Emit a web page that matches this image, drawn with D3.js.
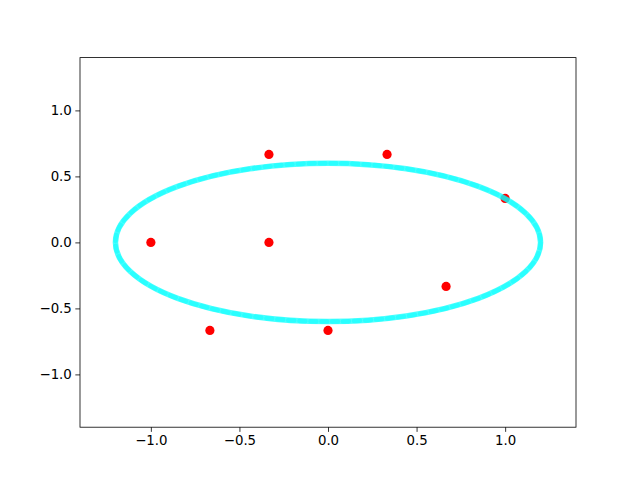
<!DOCTYPE html>
<html><head><meta charset="utf-8">
<script src="https://cdn.jsdelivr.net/npm/d3@7"></script>
<style>body{margin:0;background:#fff}svg text{font-family:"DejaVu Sans",sans-serif;font-size:13.33px;fill:#000}</style>
</head><body>
<script>
const pointX = [-1, -1/3, -1/3, 1/3, 1, 2/3, -2/3, 0];
const pointY = [0, 0, 2/3, 2/3, 1/3, -1/3, -2/3, -2/3];
const ellipseCenter = [0, 0];
const ellipseRadii = [1.2, 0.6];
const xTicks = [-1.0, -0.5, 0.0, 0.5, 1.0];
const yTicks = [-1.0, -0.5, 0.0, 0.5, 1.0];
const xDomain = [-1.4, 1.4];
const yDomain = [-1.4, 1.4];

const W = 640, H = 480;
const m = {l: 80, r: 576, t: 57.6, b: 427.2};
const svg = d3.select("body").append("svg").attr("width", W).attr("height", H);
const x = d3.scaleLinear().domain(xDomain).range([m.l, m.r]);
const y = d3.scaleLinear().domain(yDomain).range([m.b, m.t]);

const clip = svg.append("clipPath").attr("id","c").append("rect")
  .attr("x", m.l).attr("y", m.t).attr("width", m.r-m.l).attr("height", m.b-m.t);
const g = svg.append("g").attr("clip-path","url(#c)");

g.selectAll("circle.p").data(pointX.map((v,i)=>[v,pointY[i]])).enter().append("circle")
  .attr("class","p").attr("cx", d=>x(d[0])).attr("cy", d=>y(d[1])).attr("r", 4.6).attr("fill", "#ff0000");

const cx = x(ellipseCenter[0]), cy = y(ellipseCenter[1]);
const rx = x(ellipseCenter[0]+ellipseRadii[0]) - cx;
const ry = cy - y(ellipseCenter[1]+ellipseRadii[1]);
g.append("ellipse").attr("cx",cx).attr("cy",cy).attr("rx",rx).attr("ry",ry)
  .attr("fill","none").attr("stroke","#00ffff").attr("stroke-width",5.5).attr("stroke-opacity",0.7);
g.append("ellipse").attr("cx",cx).attr("cy",cy).attr("rx",rx).attr("ry",ry)
  .attr("fill","none").attr("stroke","#00ffff").attr("stroke-width",4.5).attr("stroke-opacity",0.45)
  .attr("stroke-dasharray","6 5").attr("stroke-linecap","round");

const xa = svg.append("g").attr("transform",`translate(0,${m.b})`)
  .call(d3.axisBottom(x).tickValues(xTicks).tickSize(4.67).tickPadding(3.5).tickFormat(d3.format(".1f")));
const ya = svg.append("g").attr("transform",`translate(${m.l},0)`)
  .call(d3.axisLeft(y).tickValues(yTicks).tickSize(4.67).tickPadding(3.5).tickFormat(d3.format(".1f")));
[xa, ya].forEach(a=>{a.select(".domain").remove(); a.selectAll("line").attr("stroke","#000").attr("stroke-width",0.8);
  a.selectAll("text").style("font-family","DejaVu Sans").style("font-size","13.33px").attr("fill","#000")
   .text(function(){return this.textContent.replace("-","\u2212");});});

svg.append("rect").attr("x",m.l).attr("y",m.t).attr("width",m.r-m.l).attr("height",m.b-m.t)
  .attr("fill","none").attr("stroke","#000").attr("stroke-width",0.8);
</script>
</body></html>
